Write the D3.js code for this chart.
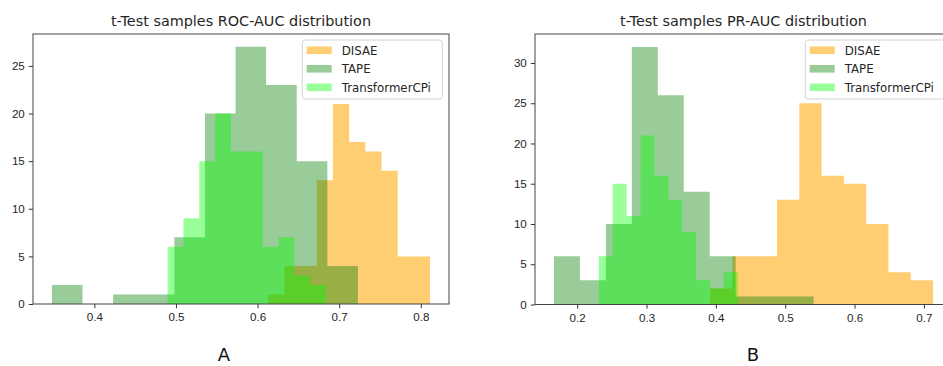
<!DOCTYPE html>
<html>
<head>
<meta charset="utf-8">
<script src="https://cdn.jsdelivr.net/npm/d3@7"></script>
<style>
  body { margin: 0; background: #fff; }
  svg { display: block; font-family: "DejaVu Sans", sans-serif; }
  .tick text { fill: #262626; }
  .tick line { stroke: #333; }
</style>
</head>
<body>
<div id="chart"></div>
<script>
// histogram counts (10 bins each) and the value range each histogram spans
const seriesNames = ["DISAE", "TAPE", "TransformerCPi"];

const rocDisae = [1, 4, 4, 13, 21, 17, 16, 14, 5, 5];
const rocDisaeRange = [0.613, 0.8114];
const rocTape = [2, 0, 1, 1, 7, 20, 27, 23, 15, 4];
const rocTapeRange = [0.348, 0.723];
const rocTransformer = [6, 9, 15, 20, 16, 16, 6, 7, 3, 2];
const rocTransformerRange = [0.4897, 0.684];

const prDisae = [2, 6, 6, 13, 25, 16, 15, 10, 4, 3];
const prDisaeRange = [0.3917, 0.7132];
const prTape = [6, 3, 10, 32, 26, 14, 6, 1, 1, 1];
const prTapeRange = [0.1665, 0.5409];
const prTransformer = [6, 15, 11, 21, 16, 13, 9, 3, 2, 4];
const prTransformerRange = [0.2313, 0.4314];

const rocTicksX = [0.4, 0.5, 0.6, 0.7, 0.8];
const rocTicksY = [0, 5, 10, 15, 20, 25];
const prTicksX = [0.2, 0.3, 0.4, 0.5, 0.6, 0.7];
const prTicksY = [0, 5, 10, 15, 20, 25, 30];

const colors = ["orange", "green", "lime"];
const alphas = [0.55, 0.4, 0.4];

const width = 943, height = 366;
const svg = d3.select("#chart").append("svg")
    .attr("width", width)
    .attr("height", height);

function drawPanel(opts) {
    const series = [
        {counts: opts.disae, range: opts.disaeRange},
        {counts: opts.tape, range: opts.tapeRange},
        {counts: opts.transformer, range: opts.transformerRange}
    ];

    const lo = d3.min(series, s => s.range[0]);
    const hi = d3.max(series, s => s.range[1]);
    const pad = (hi - lo) * 0.05;
    const maxCount = d3.max(series, s => d3.max(s.counts));

    const x = d3.scaleLinear().domain([lo - pad, hi + pad]).range([opts.left, opts.right]);
    const y = d3.scaleLinear().domain([0, maxCount * 1.05]).range([opts.bottom, opts.top]);

    const g = svg.append("g");

    const area = d3.area()
        .curve(d3.curveStepAfter)
        .x(d => x(d.x))
        .y0(y(0))
        .y1(d => y(d.c));

    series.forEach((s, i) => {
        const n = s.counts.length;
        const step = (s.range[1] - s.range[0]) / n;
        const pts = s.counts.map((c, k) => ({x: s.range[0] + k * step, c: c}));
        pts.push({x: s.range[1], c: s.counts[n - 1]});
        g.append("path")
            .attr("d", area(pts))
            .attr("fill", colors[i])
            .attr("fill-opacity", alphas[i]);
    });

    const xAxis = g.append("g")
        .attr("transform", `translate(0, ${opts.bottom})`)
        .call(d3.axisBottom(x).tickValues(opts.ticksX).tickFormat(d3.format(".1f"))
            .tickSize(4.2).tickPadding(5));
    xAxis.select(".domain").remove();
    xAxis.selectAll("text").style("font-size", "11.6px");

    const yAxis = g.append("g")
        .attr("transform", `translate(${opts.left}, 0)`)
        .call(d3.axisLeft(y).tickValues(opts.ticksY).tickFormat(d3.format("d"))
            .tickSize(4.2).tickPadding(4));
    yAxis.select(".domain").remove();
    yAxis.selectAll("text").style("font-size", "11.6px");

    g.append("rect")
        .attr("x", opts.left)
        .attr("y", opts.top)
        .attr("width", opts.right - opts.left)
        .attr("height", opts.bottom - opts.top)
        .attr("fill", "none")
        .attr("stroke", "#444")
        .attr("stroke-width", 1);

    g.append("text")
        .attr("x", (opts.left + opts.right) / 2)
        .attr("y", 26)
        .attr("text-anchor", "middle")
        .style("font-size", "14.4px")
        .attr("fill", "#262626")
        .text(opts.title);

    // legend, upper right
    const lg = g.append("g")
        .attr("transform", `translate(${opts.right - 6.7 - 140}, 40)`);
    lg.append("rect")
        .attr("width", 140)
        .attr("height", 59)
        .attr("rx", 2.5)
        .attr("fill", "#fff")
        .attr("fill-opacity", 0.8)
        .attr("stroke", "#d4d4d4");
    seriesNames.forEach((name, i) => {
        const cy = 10.3 + i * 18.5;
        lg.append("rect")
            .attr("x", 4.4)
            .attr("y", cy - 3.8)
            .attr("width", 25)
            .attr("height", 7.6)
            .attr("fill", colors[i])
            .attr("fill-opacity", alphas[i]);
        lg.append("text")
            .attr("x", 39.4)
            .attr("y", cy + 4.2)
            .style("font-size", "11.8px")
            .attr("fill", "#262626")
            .text(name);
    });

    svg.append("text")
        .attr("x", opts.labelX)
        .attr("y", 361)
        .attr("text-anchor", "middle")
        .style("font-size", "18px")
        .attr("fill", "#111")
        .text(opts.label);
}

drawPanel({
    title: "t-Test samples ROC-AUC distribution",
    label: "A", labelX: 224,
    left: 33, right: 449, top: 34, bottom: 304,
    disae: rocDisae, disaeRange: rocDisaeRange,
    tape: rocTape, tapeRange: rocTapeRange,
    transformer: rocTransformer, transformerRange: rocTransformerRange,
    ticksX: rocTicksX, ticksY: rocTicksY
});

drawPanel({
    title: "t-Test samples PR-AUC distribution",
    label: "B", labelX: 753,
    left: 535, right: 952, top: 34, bottom: 304.5,
    disae: prDisae, disaeRange: prDisaeRange,
    tape: prTape, tapeRange: prTapeRange,
    transformer: prTransformer, transformerRange: prTransformerRange,
    ticksX: prTicksX, ticksY: prTicksY
});
</script>
</body>
</html>
